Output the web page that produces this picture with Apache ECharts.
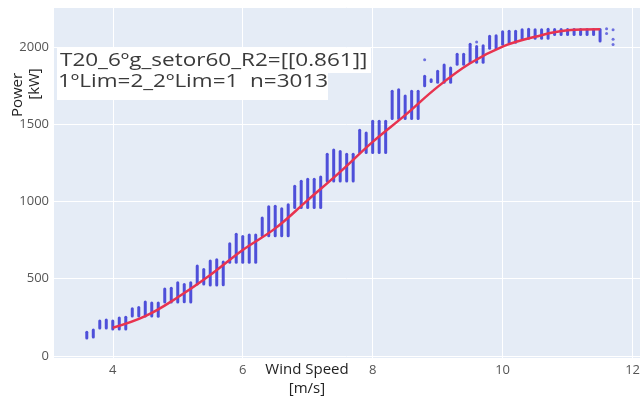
<!DOCTYPE html>
<html>
<head>
<meta charset="utf-8">
<script src="https://cdn.jsdelivr.net/npm/echarts@6/dist/echarts.min.js"></script>
<style>
  html, body { margin: 0; padding: 0; background: #fff; }
  #chart { width: 643px; height: 400px; }
</style>
</head>
<body>
<div id="chart"></div>
<script>
// wind speed bins (m/s), each one a vertical column of measured points
const windBins = [3.6, 3.7, 3.8, 3.9, 4.0, 4.1, 4.2, 4.3, 4.4, 4.5, 4.6, 4.7, 4.8, 4.9, 5.0, 5.1, 5.2, 5.3, 5.4, 5.5,
  5.6, 5.7, 5.8, 5.9, 6.0, 6.1, 6.2, 6.3, 6.4, 6.5, 6.6, 6.7, 6.8, 6.9, 7.0, 7.1, 7.2, 7.3, 7.4, 7.5,
  7.6, 7.7, 7.8, 7.9, 8.0, 8.1, 8.2, 8.3, 8.4, 8.5, 8.6, 8.7, 8.8, 8.9, 9.0, 9.1, 9.2, 9.3, 9.4, 9.5,
  9.6, 9.7, 9.8, 9.9, 10.0, 10.1, 10.2, 10.3, 10.4, 10.5, 10.6, 10.7, 10.8, 10.9, 11.0, 11.1, 11.2, 11.3, 11.4, 11.5];
const powLow = [110, 116, 175, 175, 168, 168, 168, 252, 252, 252, 252, 250, 343, 343, 343, 345, 343, 459, 459, 453,
  453, 455, 600, 600, 600, 600, 600, 772, 772, 772, 772, 772, 955, 955, 955, 955, 955, 1127, 1127, 1127,
  1127, 1127, 1311, 1311, 1311, 1311, 1311, 1530, 1530, 1530, 1530, 1530, 1742, 1770, 1766, 1766, 1766, 1882, 1882, 1895,
  1895, 1895, 1985, 1985, 2012, 2025, 2025, 2050, 2050, 2050, 2050, 2050, 2075, 2075, 2075, 2075, 2075, 2075, 2075, 2033];
const powHigh = [160, 175, 233, 240, 233, 252, 258, 312, 320, 356, 350, 350, 440, 445, 480, 470, 480, 589, 566, 621,
  630, 615, 733, 795, 780, 790, 790, 900, 972, 975, 960, 985, 1106, 1138, 1150, 1150, 1165, 1313, 1340, 1330,
  1313, 1313, 1468, 1450, 1526, 1526, 1526, 1720, 1730, 1690, 1720, 1720, 1818, 1795, 1850, 1890, 1870, 1960, 1960, 2025,
  2010, 2015, 2076, 2080, 2106, 2108, 2108, 2119, 2122, 2119, 2119, 2122, 2120, 2120, 2120, 2120, 2120, 2120, 2120, 2120];

// isolated points
const outWind = [8.8, 9.6, 11.6, 11.6, 11.7, 11.7, 11.7];
const outPower = [1918, 2033, 2119, 2088, 2112, 2050, 2016];

// fitted curve
const fitWind = [4.0, 4.5, 5.0, 5.5, 6.0, 6.5, 7.0, 7.5, 8.0, 8.5, 9.0, 9.5, 10.0, 10.5, 11.0, 11.5];
const fitPower = [183, 258, 380, 524, 686, 826, 1009, 1192, 1386, 1559, 1742, 1895, 2003, 2066, 2108, 2115];

const chart = echarts.init(document.getElementById('chart'), null, { renderer: 'canvas' });
const dotColor = 'rgba(40, 40, 210, 0.8)';
const font = "'Open Sans', 'Noto Sans', sans-serif";

chart.setOption({
  animation: false,
  textStyle: { fontFamily: font },
  grid: { left: 53, right: 0, top: 7, bottom: 42, show: true, backgroundColor: '#e5ecf6', borderWidth: 0 },
  xAxis: {
    type: 'value', min: 3.08, max: 12.12, splitNumber: 5,
    axisLine: { show: false }, axisTick: { show: false },
    axisLabel: { color: '#555', fontSize: 13, margin: 6, showMinLabel: false, showMaxLabel: false },
    splitLine: { lineStyle: { color: '#fff', width: 1 } }
  },
  yAxis: {
    type: 'value', min: -13, max: 2259, splitNumber: 5,
    axisLine: { show: false }, axisTick: { show: false },
    axisLabel: { color: '#555', fontSize: 13, margin: 4, showMinLabel: false, showMaxLabel: false,
      formatter: v => String(v) },
    splitLine: { lineStyle: { color: '#fff', width: 1 } }
  },
  series: [
    {
      type: 'custom',
      data: windBins.map((w, i) => [w, powLow[i], powHigh[i]]),
      encode: { x: 0, y: [1, 2] },
      renderItem: function (params, api) {
        const a = api.coord([api.value(0), api.value(1)]);
        const b = api.coord([api.value(0), api.value(2)]);
        return {
          type: 'line',
          shape: { x1: a[0], y1: a[1] - 1, x2: b[0], y2: b[1] + 1 },
          style: { stroke: dotColor, lineWidth: 3, lineCap: 'round' }
        };
      },
      z: 2
    },
    {
      type: 'scatter',
      data: outWind.map((w, i) => [w, outPower[i]]),
      symbolSize: 3,
      itemStyle: { color: dotColor },
      z: 2
    },
    {
      type: 'line',
      data: fitWind.map((w, i) => [w, fitPower[i]]),
      smooth: 0.4,
      symbol: 'none',
      lineStyle: { color: '#e8334f', width: 2.5 },
      z: 3
    }
  ],
  graphic: [
    { type: 'rect', left: 57, top: 48, shape: { width: 314, height: 25 }, style: { fill: '#fff' }, z: 10 },
    { type: 'rect', left: 57, top: 73, shape: { width: 271, height: 27 }, style: { fill: '#fff' }, z: 10 },
    { type: 'text', x: 60, y: 52, scaleX: 1.25, z: 11,
      style: { text: 'T20_6ºg_setor60_R2=[[0.861]]', font: "18px 'Open Sans'", fill: '#3a3a3a' } },
    { type: 'text', x: 58, y: 73, scaleX: 1.25, z: 11,
      style: { text: '1ºLim=2_2ºLim=1  n=3013', font: "18px 'Open Sans'", fill: '#3a3a3a' } },
    { type: 'text', x: 307, y: 370, z: 11,
      style: { text: 'Wind Speed', font: "15px 'Open Sans'", fill: '#222', align: 'center', verticalAlign: 'middle' } },
    { type: 'text', x: 307, y: 389, z: 11,
      style: { text: '[m/s]', font: "15px 'Open Sans'", fill: '#222', align: 'center', verticalAlign: 'middle' } },
    { type: 'text', x: 18, y: 95, rotation: Math.PI / 2, z: 11,
      style: { text: 'Power', font: "15px 'Open Sans'", fill: '#222', align: 'center', verticalAlign: 'middle' } },
    { type: 'text', x: 35, y: 84, rotation: Math.PI / 2, z: 11,
      style: { text: '[kW]', font: "15px 'Open Sans'", fill: '#222', align: 'center', verticalAlign: 'middle' } }
  ]
});
</script>
</body>
</html>
